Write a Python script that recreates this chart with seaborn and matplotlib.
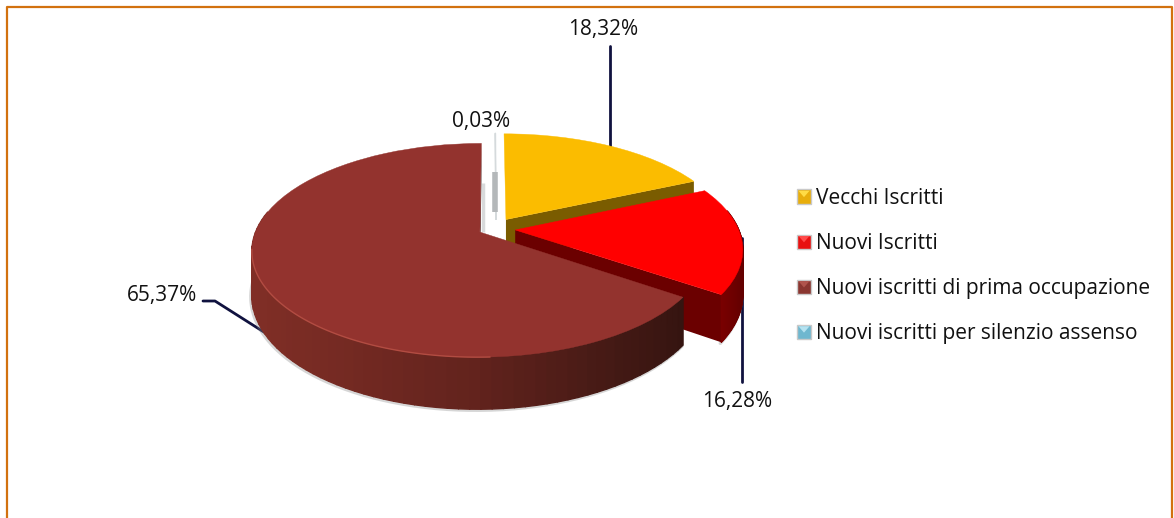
import numpy as np
import seaborn as sns
import matplotlib.pyplot as plt
from matplotlib.collections import PolyCollection
from matplotlib.legend_handler import HandlerBase
from matplotlib.patches import Patch, Polygon, Rectangle
from matplotlib.transforms import Transform

sns.set_theme(style="white")
plt.rcParams['font.family'] = ['Open Sans', 'DejaVu Sans']

categories = ["Vecchi Iscritti", "Nuovi Iscritti", "Nuovi iscritti di prima occupazione",
              "Nuovi iscritti per silenzio assenso"]
values = [18.32, 16.28, 65.37, 0.03]
value_labels = ["18,32%", "16,28%", "65,37%", "0,03%"]

explode = [0.11, 0.1, 0.063, 0.09]
radii = [0.99, 0.985, 0.985, 1.0]
top_colors = sns.color_palette(["#fbbc00", "#ff0000", "#93332e", "#d5dadc"])
legend_colors = sns.color_palette(["#e8ae0c", "#e81010", "#8a3630", "#6fb7cf"])
legend_light = sns.color_palette(["#ffdc45", "#ff4a4a", "#b0544c", "#b5e2f0"])
cut_colors = sns.color_palette(["#7a5c00", "#6b0000", "#3a1512", "#c4c9cc"])
wall_colors = [["#7a5c00", "#7a5c00"], ["#7a0000", "#640000"],
               ["#802e26", "#62231d", "#341410"], ["#c4c9cc", "#c4c9cc"]]

# tilted view of the pie, tuned in pixels against the target
CX, CY = 492.6, 229.0
R, T, K, H = 226.6, 104.3, 0.172, 43.0


def project(x, y, z=0.0):
    y = -np.asarray(y)
    s = 1 / (1 - K * y)
    return CX + R * np.asarray(x) * s, CY + T * y * s + H * z * s


class Tilt(Transform):
    input_dims = 2
    output_dims = 2

    def transform_non_affine(self, xy):
        xy = np.asarray(xy)
        return np.column_stack(project(xy[:, 0], xy[:, 1]))


class Bevel(HandlerBase):
    def create_artists(self, legend, orig, xd, yd, w, h, fontsize, trans):
        base = Rectangle((xd, -yd), w, h, fc=orig.get_facecolor(), ec="#c9c9c9", lw=1, transform=trans)
        top = Polygon([(xd + 1, h - yd - 1), (xd + w - 1, h - yd - 1), (xd + w / 2, h * 0.45 - yd)],
                      fc=orig.get_edgecolor(), ec="none", transform=trans)
        return [base, top]


fig = plt.figure(figsize=(11.74, 5.18), dpi=100)
ax = fig.add_axes([0, 0, 1, 1])

wedges, _ = ax.pie(values, explode=explode, colors=top_colors, startangle=90, counterclock=False)
ax.set_aspect("auto")
ax.set_xlim(0, 1174)
ax.set_ylim(518, 0)
ax.axis("off")

tilt = Tilt() + ax.transData
draw_order = [3, 0, 1, 2]
for n, i in enumerate(draw_order):
    w = wedges[i]
    w.set_radius(radii[i])
    if i == 3:
        w.set_center((0.015, w.center[1]))
    w.set_transform(tilt)
    w.set_zorder(10 * n + 12)
    w.set_edgecolor(top_colors[i])
    w.set_linewidth(1.0 if i == 3 else 0.3)
    if i == 3:
        continue

    # radial cut face at the clockwise end, the only one the viewer can see
    ex = w.center[0] + w.r * np.cos(np.radians(w.theta1))
    ey = w.center[1] + w.r * np.sin(np.radians(w.theta1))
    cut = [project(w.center[0], w.center[1], 0), project(ex, ey, 0),
           project(ex, ey, 1), project(w.center[0], w.center[1], 1)]
    ax.add_collection(PolyCollection([cut], facecolors=[cut_colors[i]], edgecolors="none", zorder=10 * n + 10))

    # outer wall, front facing part only
    a = np.radians(np.linspace(w.theta1, w.theta2, 100))
    a = a[np.sin(a) < 0.2]
    if len(a) < 2:
        continue
    px, py = w.center[0] + w.r * np.cos(a), w.center[1] + w.r * np.sin(a)
    x0, y0 = project(px, py, 0)
    x1, y1 = project(px, py, 1)
    quads = [[(x0[j], y0[j]), (x0[j + 1], y0[j + 1]), (x1[j + 1], y1[j + 1]), (x1[j], y1[j])]
             for j in range(len(a) - 1)]
    pal = sns.blend_palette(wall_colors[i], n_colors=64)
    idx = ((x0[:-1] - x0.min()) / max(x0.max() - x0.min(), 1) * 63).astype(int)
    shades = [pal[j] for j in idx]

    # soft shadow under the outer wall
    ax.plot(x1 - 1, y1 + 1, color="#8c8c8c", lw=2.5, alpha=0.35, zorder=10 * n + 9)
    ax.add_collection(PolyCollection(quads, facecolors=shades, edgecolors=shades, linewidths=1.0,
                                     zorder=10 * n + 11))

# rim highlight on the big slice
b = wedges[2]
a = np.radians(np.linspace(b.theta1, b.theta2, 300))
rx, ry = project(b.center[0] + b.r * np.cos(a), b.center[1] + b.r * np.sin(a), 0)
front = (ry > CY + 20) & (rx < CX)
ax.plot(rx[front], ry[front], color="#b24c42", lw=1, zorder=60)

# grey smears next to the tiny slice
ax.plot([495, 495], [172, 212], color="#b4b8ba", lw=4, solid_capstyle="butt", zorder=45)
ax.plot([482.5, 482.5], [183, 232], color="#d8dadb", lw=2.5, solid_capstyle="butt", zorder=5)

# leader lines
navy = "#10123f"
ax.plot([610, 610], [46, 146], color=navy, lw=2, zorder=3)
ax.plot([742, 742], [238, 382], color=navy, lw=2, zorder=3)
ax.plot([203, 215, 267], [301, 301, 334], color=navy, lw=2, zorder=3)

label_pos = [(603, 30), (737, 402), (162, 295), (481, 121)]
for txt, (lx, ly) in zip(value_labels, label_pos):
    ax.text(lx, ly, txt, ha="center", va="center", fontsize=15, color="#111111", zorder=70)

handles = [Patch(facecolor=c, edgecolor=l) for c, l in zip(legend_colors, legend_light)]
ax.legend(handles, categories, handler_map={Patch: Bevel()}, loc="center left",
          bbox_to_anchor=(797, 266), bbox_transform=ax.transData, frameon=False,
          fontsize=15, labelspacing=1.16, handlelength=0.67, handleheight=0.67,
          handletextpad=0.25, labelcolor="#111111", borderaxespad=0, borderpad=0)

# orange frame, open at the bottom
ax.plot([7, 7, 1172, 1172], [518, 7, 7, 518], color="#d2710f", lw=1.6, zorder=80, clip_on=False)

fig.savefig("out.png", dpi=100)
